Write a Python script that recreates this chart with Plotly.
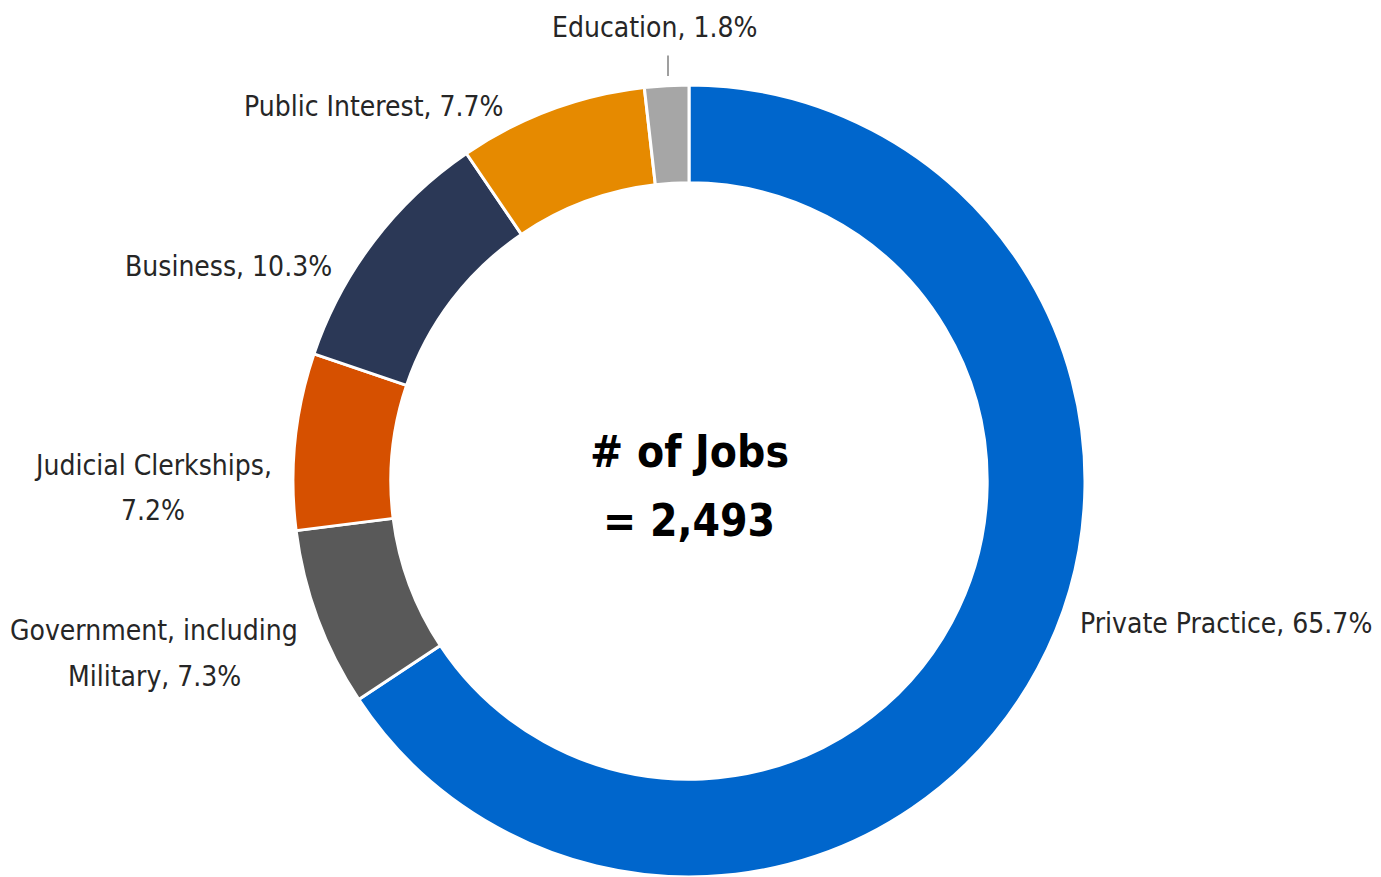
import plotly.graph_objects as go

# job categories, clockwise from 12 o'clock
categories = ["Private Practice", "Government, including Military", "Judicial Clerkships",
              "Business", "Public Interest", "Education"]
shares = [65.7, 7.3, 7.2, 10.3, 7.7, 1.8]
colors = ["#0066CC", "#595959", "#D65000", "#2B3856", "#E68A00", "#A6A6A6"]
total_jobs = 2493

# how each outside label breaks into lines
label_lines = {
    "Government, including Military": ["Government, including", "Military, {:.1f}%"],
    "Judicial Clerkships": ["Judicial Clerkships,", "{:.1f}%"],
}

W, H = 1381, 877
FONT = "Liberation Sans Narrow, DejaVu Sans Condensed, Arial Narrow, sans-serif"
TXT = "#262626"
LINE_GAP = 46

# label anchor points in pixels (placement only)
label_pos = {
    "Private Practice": (1226, 623),
    "Government, including Military": (154, 653),
    "Judicial Clerkships": (153, 488),
    "Business": (228, 267),
    "Public Interest": (374, 106),
    "Education": (654, 28),
}

cx, cy, r = 689, 481, 396

fig = go.Figure(go.Pie(
    labels=categories,
    values=shares,
    sort=False,
    direction="clockwise",
    rotation=0,
    hole=0.753,
    marker=dict(colors=colors, line=dict(color="white", width=3)),
    textinfo="none",
    hoverinfo="label+percent",
    showlegend=False,
    domain=dict(x=[(cx - r) / W, (cx + r) / W],
                y=[max(0, (H - cy - r) / H), min(1, (H - cy + r) / H)]),
))


def text_at(px, py, text, size, color, bold=False):
    return dict(
        x=px / W, y=1 - py / H, xref="paper", yref="paper",
        xanchor="center", yanchor="middle",
        text="<b>" + text + "</b>" if bold else text,
        showarrow=False, align="center",
        font=dict(family=FONT, size=size, color=color),
    )


annotations = []
for name, val in zip(categories, shares):
    lines = [s.format(val) for s in label_lines.get(name, [name + ", {:.1f}%"])]
    px, py = label_pos[name]
    n = len(lines)
    for i, line in enumerate(lines):
        annotations.append(text_at(px, py + (i - (n - 1) / 2) * LINE_GAP, line, 28, TXT))

# short leader line for the Education label
annotations.append(dict(
    x=668 / W, y=1 - 76 / H, xref="paper", yref="paper",
    text="", showarrow=True, arrowhead=0, arrowwidth=1.5, arrowcolor="#808080",
    ax=0, ay=-22,
))

# centre caption
annotations.append(text_at(cx, 452, "# of Jobs", 44, "black", bold=True))
annotations.append(text_at(cx, 520, "= {:,}".format(total_jobs), 44, "black", bold=True))

fig.update_layout(
    width=W, height=H,
    margin=dict(l=0, r=0, t=0, b=0),
    paper_bgcolor="white",
    plot_bgcolor="white",
    annotations=annotations,
)

fig.write_html("out.html", config={"displayModeBar": False},
               post_script="document.body.style.margin='0';")
